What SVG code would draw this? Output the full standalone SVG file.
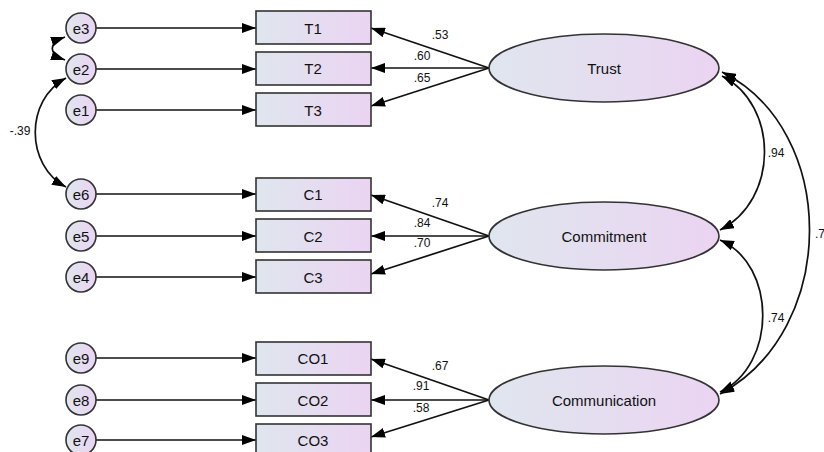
<svg xmlns="http://www.w3.org/2000/svg" width="824" height="452" viewBox="0 0 824 452">
  <defs>
    <linearGradient id="fill" x1="0" y1="0" x2="1" y2="0">
      <stop offset="0" stop-color="#dfe6ee"/>
      <stop offset="1" stop-color="#ebd4f2"/>
    </linearGradient>
    <marker id="head" viewBox="0 0 14 10" refX="14" refY="5" markerWidth="14" markerHeight="10" markerUnits="userSpaceOnUse" orient="auto-start-reverse">
      <path d="M0,0 L14,5 L0,10 Z" fill="#000"/>
    </marker>
  </defs>
  <style>
    .box { fill: url(#fill); stroke: #333; stroke-width: 1.6; }
    .lbl { font-family: "Liberation Sans", Arial, sans-serif; font-size: 15px; fill: #111; text-anchor: middle; dominant-baseline: central; }
    .num { font-family: "Liberation Sans", Arial, sans-serif; font-size: 12px; fill: #111; text-anchor: middle; dominant-baseline: central; }
    .arrow { fill: none; stroke: #111; stroke-width: 1.7; marker-end: url(#head); }
    .cov { fill: none; stroke: #111; stroke-width: 1.7; marker-start: url(#head); marker-end: url(#head); }
  </style>
  <rect width="824" height="452" fill="#fff"/>

  <g id="connectors">
    <!-- errors to indicators -->
    <path class="arrow" d="M96,28 H256"/>
    <path class="arrow" d="M96,69 H256"/>
    <path class="arrow" d="M96,110 H256"/>
    <path class="arrow" d="M96,194 H256"/>
    <path class="arrow" d="M96,236 H256"/>
    <path class="arrow" d="M96,277 H256"/>
    <path class="arrow" d="M96,358 H256"/>
    <path class="arrow" d="M96,400 H256"/>
    <path class="arrow" d="M96,440 H256"/>
    <!-- loadings -->
    <path class="arrow" d="M489,68 L371,28"/>
    <path class="arrow" d="M489,68 L371,68"/>
    <path class="arrow" d="M489,68 L371,106"/>
    <path class="arrow" d="M489,236 L371,195"/>
    <path class="arrow" d="M489,236 L371,236"/>
    <path class="arrow" d="M489,236 L371,274"/>
    <path class="arrow" d="M489,400 L371,359"/>
    <path class="arrow" d="M489,400 L371,400"/>
    <path class="arrow" d="M489,400 L371,437"/>
    <!-- covariances -->
    <path class="cov" d="M722,76 C779,105 779,200 720,230"/>
    <path class="cov" d="M722,72 C839,130 839,330 720,394"/>
    <path class="cov" d="M720,240 C777,265 777,365 720,392"/>
    <path class="cov" d="M66,78 C25,100 25,165 66,187"/>
    <path class="cov" d="M65,37 C48,43 48,54 65,60"/>
    <!-- coefficients -->
    <text class="num" x="440" y="35">.53</text>
    <text class="num" x="422" y="56">.60</text>
    <text class="num" x="422" y="78">.65</text>
    <text class="num" x="440" y="203">.74</text>
    <text class="num" x="422" y="223">.84</text>
    <text class="num" x="422" y="243">.70</text>
    <text class="num" x="440" y="366">.67</text>
    <text class="num" x="421" y="386">.91</text>
    <text class="num" x="421" y="408">.58</text>
    <text class="num" x="776" y="153">.94</text>
    <text class="num" x="776" y="318">.74</text>
    <text class="num" x="820" y="234">.7</text>
    <text class="num" x="20" y="131">-.39</text>
  </g>

  <g id="e3"><circle class="box" cx="81" cy="28" r="15"/><text class="lbl" x="81" y="28">e3</text></g>
  <g id="e2"><circle class="box" cx="81" cy="69" r="15"/><text class="lbl" x="81" y="69">e2</text></g>
  <g id="e1"><circle class="box" cx="81" cy="110" r="15"/><text class="lbl" x="81" y="110">e1</text></g>
  <g id="e6"><circle class="box" cx="81" cy="194" r="15"/><text class="lbl" x="81" y="194">e6</text></g>
  <g id="e5"><circle class="box" cx="81" cy="236" r="15"/><text class="lbl" x="81" y="236">e5</text></g>
  <g id="e4"><circle class="box" cx="81" cy="277" r="15"/><text class="lbl" x="81" y="277">e4</text></g>
  <g id="e9"><circle class="box" cx="81" cy="358" r="15"/><text class="lbl" x="81" y="358">e9</text></g>
  <g id="e8"><circle class="box" cx="81" cy="400" r="15"/><text class="lbl" x="81" y="400">e8</text></g>
  <g id="e7"><circle class="box" cx="81" cy="440" r="15"/><text class="lbl" x="81" y="440">e7</text></g>

  <g id="T1"><rect class="box" x="256" y="11" width="115" height="33"/><text class="lbl" x="313" y="28">T1</text></g>
  <g id="T2"><rect class="box" x="256" y="52" width="115" height="33"/><text class="lbl" x="313" y="68">T2</text></g>
  <g id="T3"><rect class="box" x="256" y="93" width="115" height="33"/><text class="lbl" x="313" y="110">T3</text></g>
  <g id="C1"><rect class="box" x="256" y="178" width="115" height="33"/><text class="lbl" x="313" y="194">C1</text></g>
  <g id="C2"><rect class="box" x="256" y="219" width="115" height="33"/><text class="lbl" x="313" y="236">C2</text></g>
  <g id="C3"><rect class="box" x="256" y="260" width="115" height="33"/><text class="lbl" x="313" y="277">C3</text></g>
  <g id="CO1"><rect class="box" x="256" y="342" width="115" height="33"/><text class="lbl" x="313" y="358">CO1</text></g>
  <g id="CO2"><rect class="box" x="256" y="383" width="115" height="33"/><text class="lbl" x="313" y="400">CO2</text></g>
  <g id="CO3"><rect class="box" x="256" y="424" width="115" height="33"/><text class="lbl" x="313" y="440">CO3</text></g>

  <g id="Trust"><ellipse class="box" cx="604" cy="68" rx="115" ry="34"/><text class="lbl" x="604" y="68">Trust</text></g>
  <g id="Commitment"><ellipse class="box" cx="604" cy="236" rx="115" ry="34"/><text class="lbl" x="604" y="236">Commitment</text></g>
  <g id="Communication"><ellipse class="box" cx="604" cy="400" rx="115" ry="34"/><text class="lbl" x="604" y="400">Communication</text></g>
</svg>
